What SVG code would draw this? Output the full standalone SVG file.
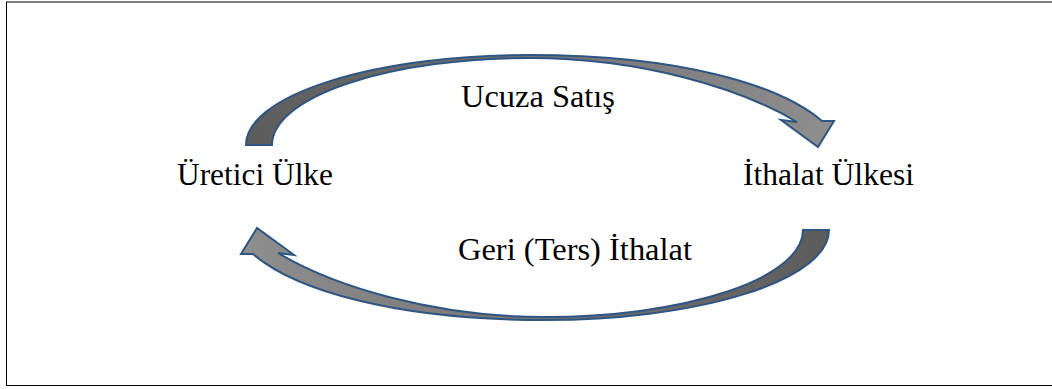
<svg xmlns="http://www.w3.org/2000/svg" width="1052" height="389" viewBox="0 0 1052 389">
  <style>
    .lbl { font-family: 'Liberation Serif', 'Times New Roman', serif; font-size: 31px; fill: #000; }
    .arrow { fill: url(#g); stroke: #2f5583; stroke-width: 2; stroke-linejoin: miter; }
    .frame { fill: #fff; stroke: #000; stroke-width: 1; }
  </style>
  <defs>
    <linearGradient id="g" x1="0" y1="0" x2="1" y2="0">
      <stop offset="0" stop-color="#5c5c5c"/>
      <stop offset="1" stop-color="#8e8e8e"/>
    </linearGradient>
    <path id="curved" d="M246,145 A284,90 0 0 1 530,55 C680,55 780,85 822,121 L834,121 L818,147 L781,120 L797,122 C740,88 640,58 530,58 A258,87 0 0 0 272,145 Z"/>
  </defs>
  <rect class="frame" x="6.5" y="2" width="1060" height="383.5"/>
  <g id="connectors">
    <use href="#curved" class="arrow"/>
    <use href="#curved" class="arrow" transform="rotate(180 537.5 187.5)"/>
  </g>
  <g id="node-uretici">
    <text class="lbl" x="177" y="185" textLength="156" lengthAdjust="spacingAndGlyphs">Üretici Ülke</text>
  </g>
  <g id="node-ithalat">
    <text class="lbl" x="743" y="185" textLength="171" lengthAdjust="spacingAndGlyphs">İthalat Ülkesi</text>
  </g>
  <g id="label-ucuza">
    <text class="lbl" x="461" y="107" textLength="154" lengthAdjust="spacingAndGlyphs">Ucuza Satış</text>
  </g>
  <g id="label-geri">
    <text class="lbl" x="458" y="260" textLength="234" lengthAdjust="spacingAndGlyphs">Geri (Ters) İthalat</text>
  </g>
</svg>
